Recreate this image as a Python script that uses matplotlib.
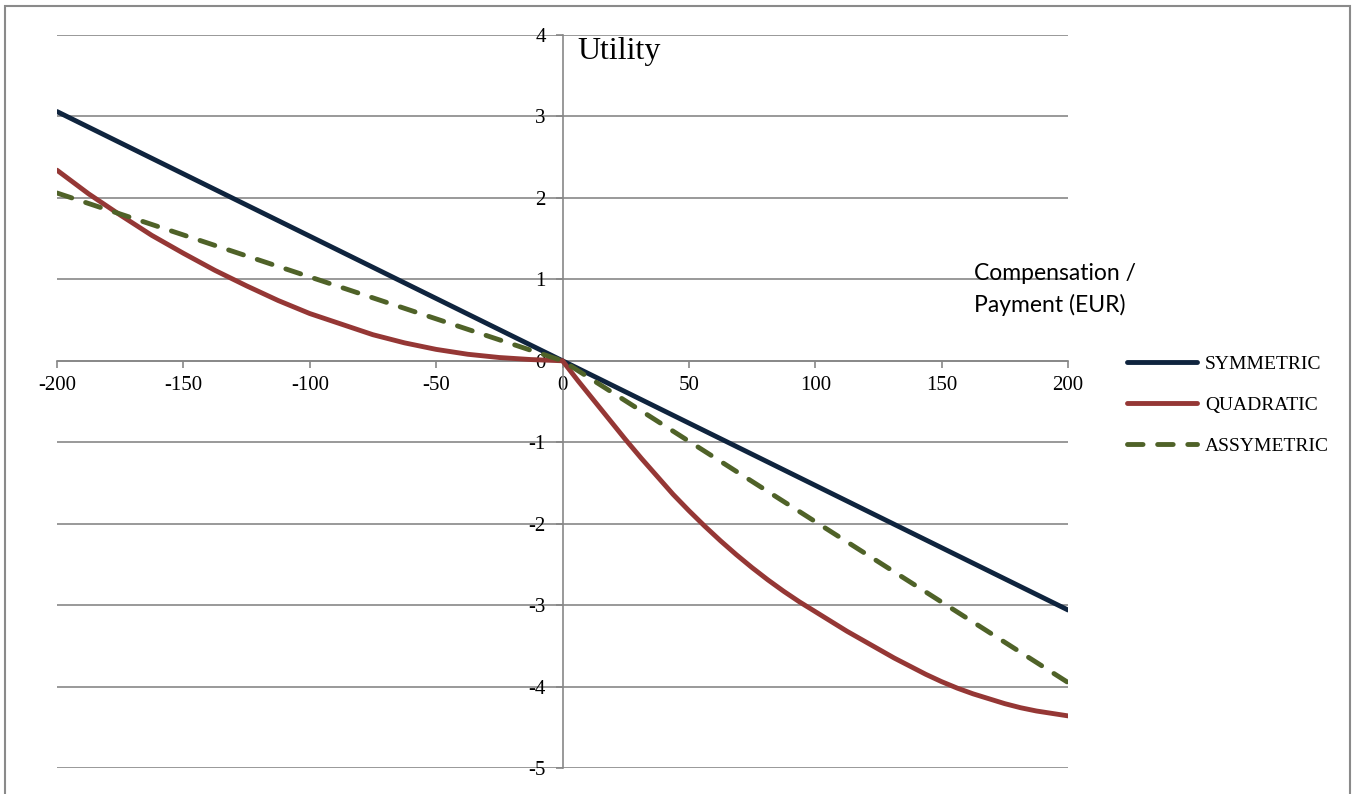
import numpy as np
import matplotlib
matplotlib.use('Agg')
import matplotlib.pyplot as plt
from matplotlib.patches import Rectangle

# values
sym_x = [-200, 0, 200]
sym_y = [3.06, 0.0, -3.06]

quad_x = [-200, -187.5, -175, -162.5, -150, -137.5, -125, -112.5, -100, -87.5,
          -75, -62.5, -50, -37.5, -25, -12.5, 0,
          6.25, 12.5, 18.75, 25, 31.25, 37.5, 43.75, 50, 56.25, 62.5, 68.75,
          75, 81.25, 87.5, 93.75, 100, 106.25, 112.5, 118.75, 125, 131.25,
          137.5, 143.75, 150, 156.25, 162.5, 168.75, 175, 181.25, 187.5,
          193.75, 200]
quad_y = [2.34, 2.05, 1.79, 1.54, 1.32, 1.11, 0.92, 0.74, 0.58, 0.45,
          0.32, 0.22, 0.14, 0.08, 0.04, 0.015, 0.0,
          -0.25, -0.49, -0.73, -0.97, -1.20, -1.42, -1.64, -1.84, -2.03,
          -2.21, -2.38, -2.54, -2.69, -2.83, -2.96, -3.08, -3.20, -3.32,
          -3.43, -3.54, -3.65, -3.75, -3.85, -3.94, -4.02, -4.09, -4.15,
          -4.21, -4.26, -4.30, -4.33, -4.36]

asym_x = [-200, 0, 200]
asym_y = [2.06, 0.0, -3.95]

labels = ['SYMMETRIC', 'QUADRATIC', 'ASSYMETRIC']
x_ticks = [-200, -150, -100, -50, 0, 50, 100, 150, 200]
y_ticks = [-5, -4, -3, -2, -1, 0, 1, 2, 3, 4]

plt.rcParams['axes.unicode_minus'] = False
grid_col = '#878787'
serif = ['Liberation Serif', 'DejaVu Serif']

fig = plt.figure(figsize=(13.57, 7.94), dpi=100)
ax = fig.add_axes([57 / 1357, 1 - 768 / 794, (1068 - 57) / 1357, (768 - 35) / 794])

ax.plot(sym_x, sym_y, color='#0F243E', lw=3.5, solid_capstyle='round',
        solid_joinstyle='round', label=labels[0], zorder=3)
ax.plot(quad_x, quad_y, color='#953735', lw=3.5, solid_capstyle='round',
        solid_joinstyle='round', label=labels[1], zorder=3)
ax.plot(asym_x, asym_y, color='#4F6228', lw=3.5, dashes=(3.2, 3.0), dash_capstyle='round',
        label=labels[2], zorder=3)

ax.set_xlim(-200, 200)
ax.set_ylim(-5, 4)
ax.set_xticks(x_ticks)
ax.set_yticks(y_ticks)
ax.set_xticklabels([str(v) for v in x_ticks])
ax.set_yticklabels([str(v) for v in y_ticks])

for s in ['top', 'right']:
    ax.spines[s].set_visible(False)
ax.spines['left'].set_position(('data', 0))
ax.spines['bottom'].set_position(('data', 0))
for s in ['left', 'bottom']:
    ax.spines[s].set_color(grid_col)
    ax.spines[s].set_linewidth(1.2)
ax.tick_params(axis='both', colors=grid_col, length=5, width=1.2, labelcolor='black',
               labelsize=15)
ax.tick_params(axis='x', direction='out', pad=6)
ax.tick_params(axis='y', direction='out', pad=7)
for lab in ax.get_xticklabels() + ax.get_yticklabels():
    lab.set_fontfamily(serif)
ax.yaxis.grid(True, color=grid_col, lw=1.2)
ax.set_axisbelow(True)

ax.text(6, 3.70, 'Utility', family=serif, fontsize=23, va='baseline')
ax.text(163, 0.60, 'Compensation /\nPayment (EUR)', family=['Lato', 'DejaVu Sans'],
        fontsize=16.5, va='baseline', linespacing=1.55)

fig.legend(loc='center left', bbox_to_anchor=(1127 / 1357, 1 - 405 / 794), frameon=False,
           prop={'family': serif, 'size': 14}, handlelength=3.6, handletextpad=0.4,
           labelspacing=1.2, borderpad=0, borderaxespad=0)

fig.patches.append(Rectangle((5 / 1357, -0.1), (1350 - 5) / 1357, 1 - 6 / 794 + 0.1,
                             transform=fig.transFigure, fill=False, ec='#8a8a8a', lw=1.5))

fig.savefig('out.png', dpi=100)
